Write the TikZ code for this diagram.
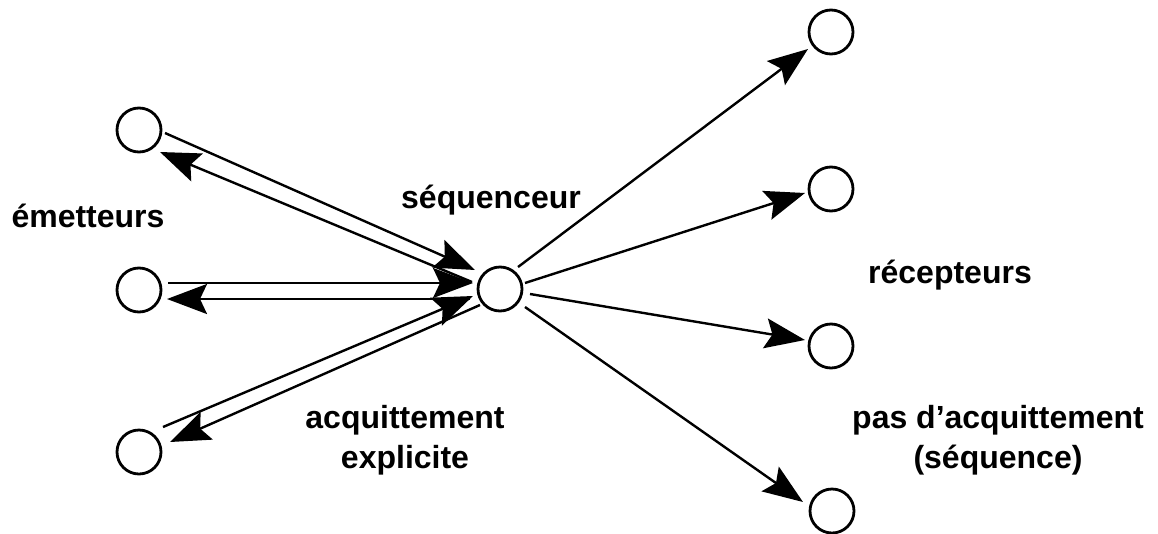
\documentclass[tikz,border=0pt]{standalone}
\usepackage{fontspec}
\setmainfont{Liberation Sans}
\usetikzlibrary{arrows.meta,calc}
\begin{document}
\begin{tikzpicture}[x=1pt,y=-1pt,
  station/.style={circle, draw, line width=2.8pt, minimum size=44pt, inner sep=0pt},
  msg/.style={line width=2.4pt, -{Stealth[length=40pt,width=30pt,inset=7pt]}},
  lbl/.style={font=\bfseries\fontsize{32}{40}\selectfont, align=center, inner sep=0pt}]
  \useasboundingbox (0,0) rectangle (1158,533);
  \clip (0,0) rectangle (1158,533);

  % emitters, sequencer, receivers
  \node[station] (e1) at (139,130) {};
  \node[station] (e2) at (139,290) {};
  \node[station] (e3) at (139,452) {};
  \node[station] (seq) at (500,289) {};
  \node[station] (r1) at (831,32) {};
  \node[station] (r2) at (831,189) {};
  \node[station] (r3) at (831,346) {};
  \node[station] (r4) at (832,511) {};

  % emitters <-> sequencer (explicit acknowledgement)
  \draw[msg] ($(e1)+(26,3)$) -- ($(seq)+(-25,-19)$);
  \draw[msg] ($(seq)+(-28,-7)$) -- ($(e1)+(21,22)$);
  \draw[msg] ($(e2)+(29,-7)$) -- ($(seq)+(-27,-6)$);
  \draw[msg] ($(seq)+(-30,10)$) -- ($(e2)+(28,9)$);
  \draw[msg] ($(e3)+(24,-25)$) -- ($(seq)+(-27,7)$);
  \draw[msg] ($(seq)+(-20,16)$) -- ($(e3)+(31,-10)$);

  % sequencer -> receivers
  \draw[msg] ($(seq)+(18,-22)$) -- ($(r1)+(-23,17)$);
  \draw[msg] ($(seq)+(25,-6)$) -- ($(r2)+(-26,4)$);
  \draw[msg] ($(seq)+(30,5)$) -- ($(r3)+(-26,-6)$);
  \draw[msg] ($(seq)+(25,18)$) -- ($(r4)+(-29,-9)$);

  % labels
  \node[lbl, anchor=base] (lemit) at (88,227) {émetteurs};
  \node[lbl, anchor=base] (lseq) at (491,208) {séquenceur};
  \node[lbl, anchor=base] (lrec) at (950,283) {récepteurs};
  \node[lbl] (lack) at (405,440) {acquittement\\explicite};
  \node[lbl] (lnoack) at (998,440) {pas d’acquittement\\(séquence)};
\end{tikzpicture}
\end{document}
